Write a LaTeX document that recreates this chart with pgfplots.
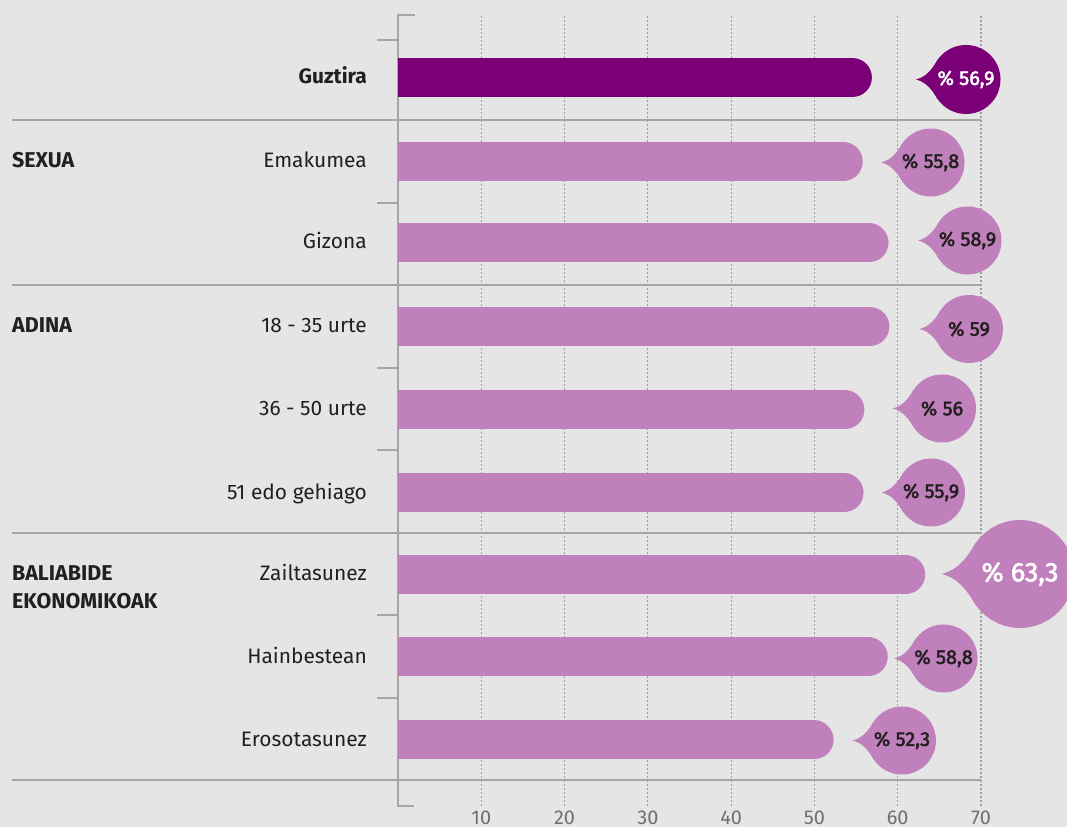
\documentclass[border=0pt]{standalone}
\usepackage{fontspec}
\setmainfont{Fira Sans}
\newfontfamily\medfont{Fira Sans}[FakeBold=2.2]
\usepackage{pgfplots}
\pgfplotsset{compat=1.18}

\definecolor{bg}{HTML}{E5E5E5}
\definecolor{purp}{HTML}{7B0077}
\definecolor{lilac}{HTML}{BF80BC}
\definecolor{rulec}{HTML}{A9A6A1}
\definecolor{gridc}{HTML}{9E9E9E}
\definecolor{ink}{HTML}{231F20}
\definecolor{tickc}{HTML}{6F6F6F}

% speech bubble: circle with a pointed tail on the left
\pgfdeclareplotmark{bubble}{%
  \pgfpathcircle{\pgfpointorigin}{\pgfplotmarksize}%
  \pgfusepathqfill
  \pgfpathmoveto{\pgfpointpolar{145}{\pgfplotmarksize}}%
  \pgfpathcurveto{\pgfpoint{-0.95\pgfplotmarksize}{0.36\pgfplotmarksize}}%
    {\pgfpoint{-1.12\pgfplotmarksize}{0.08\pgfplotmarksize}}%
    {\pgfpoint{-1.45\pgfplotmarksize}{0pt}}%
  \pgfpathcurveto{\pgfpoint{-1.12\pgfplotmarksize}{-0.08\pgfplotmarksize}}%
    {\pgfpoint{-0.95\pgfplotmarksize}{-0.36\pgfplotmarksize}}%
    {\pgfpointpolar{215}{\pgfplotmarksize}}%
  \pgfpathlineto{\pgfpointorigin}%
  \pgfpathclose
  \pgfusepathqfill
}

\pgfplotsset{
  bubbles/.style={only marks, mark=bubble, point meta=explicit,
    nodes near coords={\%\ \pgfmathprintnumber[use comma,fixed,precision=1]{\pgfplotspointmeta}},
    every node near coord/.append style={anchor=center, inner sep=0pt}},
  roundbar/.style={xcomb, line width=39bp, line cap=round, xshift=-19.5bp},
}

\begin{document}
\begin{tikzpicture}
\begin{scope}[x=1bp,y=1bp]
\fill[bg] (0,0) rectangle (1067,827);
% dotted grid
\foreach \k in {1,...,7}
  \draw[gridc, line width=1.1bp, dash pattern=on 2bp off 2bp] ({398+83.2857*\k},21) -- ({398+83.2857*\k},812);
% group separators
\foreach \yy in {707,542,294,47}
  \draw[rulec, line width=1.5bp] (12,\yy) -- (981,\yy);
% category axis
\draw[rulec, line width=1.5bp] (415,812) -- (398,812) -- (398,21) -- (414,21);
\foreach \yy in {787,624,459,377,212,129}
  \draw[rulec, line width=1.5bp] (377,\yy) -- (398,\yy);
\end{scope}

\begin{axis}[at={(398bp,0bp)}, anchor=south west, scale only axis,
  width=669bp, height=827bp,
  xmin=0, xmax=80.326, ymin=0, ymax=827,
  clip marker paths=true,
  axis line style={draw=none}, major tick length=0pt,
  ytick=\empty, xtick={10,20,...,70},
  /pgf/number format/assume math mode=true,
  xticklabel style={font=\fontsize{20}{20}\selectfont, text=tickc, anchor=base, yshift=3bp},
]
% bars
\addplot[roundbar, draw=purp] table[x=v, y=y] {
v y
56.9 749.5
};
\addplot[roundbar, draw=lilac] table[x=v, y=y] {
v y
55.8 665.5
58.9 584
59 500.5
56 417
55.9 334
63.3 252.5
58.8 170
52.3 87
};
% value bubbles
\addplot[bubbles, mark size=34.5bp, fill=purp, draw=none,
  every node near coord/.append style={text=white, font=\medfont\fontsize{20}{20}\selectfont}]
  table[x=x, y=y, meta=v] {
x y v
68.20 747.5 56.9
};
\addplot[bubbles, mark size=54bp, fill=lilac, draw=none,
  every node near coord/.append style={text=white, font=\medfont\fontsize{27}{27}\selectfont}]
  table[x=x, y=y, meta=v] {
x y v
74.68 253 63.3
};
\addplot[bubbles, mark size=34bp, fill=lilac, draw=none,
  every node near coord/.append style={text=ink, font=\medfont\fontsize{20}{20}\selectfont}]
  table[x=x, y=y, meta=v] {
x y v
63.94 664.5 55.8
68.38 586.5 58.9
68.56 498 59
65.32 418.5 56
64.00 334.5 55.9
65.50 168.5 58.8
60.51 86.5 52.3
};
\end{axis}

% category labels
\begin{scope}[x=1bp,y=1bp,every node/.style={inner sep=0pt, text=ink, font=\fontsize{21}{21}\selectfont}]
\node[anchor=base east, font=\fontsize{21}{21}\selectfont\bfseries] at (367,743.5) {Guztira};
\node[anchor=base east] at (367,659.5) {Emakumea};
\node[anchor=base east] at (367,578) {Gizona};
\node[anchor=base east] at (367,494.5) {18 - 35 urte};
\node[anchor=base east] at (367,411) {36 - 50 urte};
\node[anchor=base east] at (367,328) {51 edo gehiago};
\node[anchor=base east] at (367,246.5) {Zailtasunez};
\node[anchor=base east] at (367,164) {Hainbestean};
\node[anchor=base east] at (367,81) {Erosotasunez};
\node[anchor=base west, font=\fontsize{21.5}{21.5}\selectfont\bfseries] at (12,659.5) {SEXUA};
\node[anchor=base west, font=\fontsize{21.5}{21.5}\selectfont\bfseries] at (12,494.5) {ADINA};
\node[anchor=base west, font=\fontsize{21.5}{21.5}\selectfont\bfseries] at (12,246.5) {BALIABIDE};
\node[anchor=base west, font=\fontsize{21.5}{21.5}\selectfont\bfseries] at (12,218.5) {EKONOMIKOAK};
\end{scope}
\pgfresetboundingbox
\useasboundingbox (0,0) rectangle (1067bp,827bp);
\end{tikzpicture}
\end{document}
